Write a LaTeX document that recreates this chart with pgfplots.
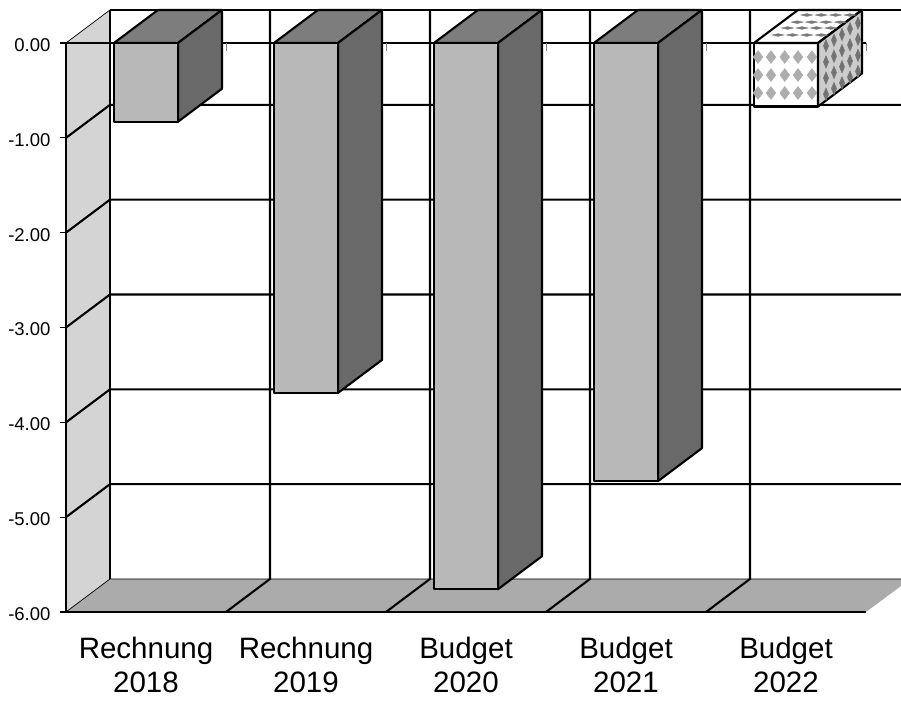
\documentclass[border=0pt]{standalone}
\usepackage{fontspec}
\setmainfont{Liberation Sans}
\usepackage{pgfplots}
\pgfplotsset{compat=1.18}
\definecolor{wall}{gray}{0.83}
\definecolor{floorc}{gray}{0.67}
\definecolor{front}{gray}{0.72}
\definecolor{side}{gray}{0.41}
\definecolor{topc}{gray}{0.49}
\pgfplotsset{
  thin line/.style={black,line width=0.7pt,no marks},
  thick line/.style={black,line width=2.1pt,no marks},
  face/.style={draw=black,line width=2.1pt,line join=round,no marks},
}
\begin{document}
\begin{tikzpicture}
\begin{axis}[
  scale only axis, width=835pt, height=602pt,
  xmin=-0.5, xmax=4.71875, ymin=-6, ymax=0.348,
  clip=false,
  axis line style={draw=none},
  ytick={-6,-5,-4,-3,-2,-1,0},
  yticklabels={-6.00,-5.00,-4.00,-3.00,-2.00,-1.00,0.00},
  xtick={0,1,2,3,4},
  xticklabels={{Rechnung\\2018},{Rechnung\\2019},{Budget\\2020},{Budget\\2021},{Budget\\2022}},
  xticklabel style={align=center,font=\fontsize{29.5}{34}\selectfont,yshift=-16pt},
  yticklabel style={font=\fontsize{18.5}{20}\selectfont,xshift=-6pt,yshift=-2pt},
  ytick pos=left, xtick pos=bottom,
  tick align=outside,
  major tick length=6pt,
  y tick style={black,line width=1.2pt},
  x tick style={draw=none},
  ylabel={}, xlabel={},
]
% left wall and floor
\addplot[fill=wall,draw=none,no marks] coordinates {(-0.5,0) (-0.225,0.348) (-0.225,-5.652) (-0.5,-6)} --cycle;
\addplot[fill=floorc,draw=none,no marks] coordinates {(-0.5,-6) (-0.225,-5.652) (4.71875,-5.652) (4.71875,-5.726) (4.5,-6)} --cycle;
\addplot[thin line] coordinates {(-0.5,0) (-0.225,0.348)};
\addplot[thin line] coordinates {(-0.5,-6) (-0.225,-5.652) (4.71875,-5.652)};
% grid on back wall and side wall
\addplot[thick line] coordinates {(-0.225,0.348) (4.71875,0.348)};
\addplot[thick line] coordinates {(-0.5,-1) (-0.225,-0.652) (4.71875,-0.652)};
\addplot[thick line] coordinates {(-0.5,-2) (-0.225,-1.652) (4.71875,-1.652)};
\addplot[thick line] coordinates {(-0.5,-3) (-0.225,-2.652) (4.71875,-2.652)};
\addplot[thick line] coordinates {(-0.5,-4) (-0.225,-3.652) (4.71875,-3.652)};
\addplot[thick line] coordinates {(-0.5,-5) (-0.225,-4.652) (4.71875,-4.652)};
% verticals running down the back wall, then across the floor
\addplot[thick line] coordinates {(-0.225,0.348) (-0.225,-5.652)};
\addplot[thick line] coordinates {(0.775,0.348) (0.775,-5.652) (0.5,-6)};
\addplot[thick line] coordinates {(1.775,0.348) (1.775,-5.652) (1.5,-6)};
\addplot[thick line] coordinates {(2.775,0.348) (2.775,-5.652) (2.5,-6)};
\addplot[thick line] coordinates {(3.775,0.348) (3.775,-5.652) (3.5,-6)};
% front edges and zero line
\addplot[thick line] coordinates {(-0.5,0) (-0.5,-6) (4.5,-6)};
\addplot[thick line] coordinates {(-0.5,0) (4.5,0)};
% small ticks below the zero line
\addplot[gray,line width=0.8pt,no marks] coordinates {(0.5,0) (0.5,-0.08)};
\addplot[gray,line width=0.8pt,no marks] coordinates {(1.5,0) (1.5,-0.08)};
\addplot[gray,line width=0.8pt,no marks] coordinates {(2.5,0) (2.5,-0.08)};
\addplot[gray,line width=0.8pt,no marks] coordinates {(3.5,0) (3.5,-0.08)};
\addplot[gray,line width=0.8pt,no marks] coordinates {(4.5,0) (4.5,-0.08)};
% bars: Rechnung 2018, value -0.83
\addplot[face,fill=topc] coordinates {(-0.2,0) (0.075,0.348) (0.475,0.348) (0.2,0)} --cycle;
\addplot[face,fill=side] coordinates {(0.2,0) (0.475,0.348) (0.475,-0.482) (0.2,-0.83)} --cycle;
\addplot[face,fill=front] coordinates {(-0.2,0) (0.2,0) (0.2,-0.83) (-0.2,-0.83)} --cycle;
% Rechnung 2019, value -3.69
\addplot[face,fill=topc] coordinates {(0.8,0) (1.075,0.348) (1.475,0.348) (1.2,0)} --cycle;
\addplot[face,fill=side] coordinates {(1.2,0) (1.475,0.348) (1.475,-3.342) (1.2,-3.69)} --cycle;
\addplot[face,fill=front] coordinates {(0.8,0) (1.2,0) (1.2,-3.69) (0.8,-3.69)} --cycle;
% Budget 2020, value -5.76
\addplot[face,fill=topc] coordinates {(1.8,0) (2.075,0.348) (2.475,0.348) (2.2,0)} --cycle;
\addplot[face,fill=side] coordinates {(2.2,0) (2.475,0.348) (2.475,-5.412) (2.2,-5.76)} --cycle;
\addplot[face,fill=front] coordinates {(1.8,0) (2.2,0) (2.2,-5.76) (1.8,-5.76)} --cycle;
% Budget 2021, value -4.62
\addplot[face,fill=topc] coordinates {(2.8,0) (3.075,0.348) (3.475,0.348) (3.2,0)} --cycle;
\addplot[face,fill=side] coordinates {(3.2,0) (3.475,0.348) (3.475,-4.272) (3.2,-4.62)} --cycle;
\addplot[face,fill=front] coordinates {(2.8,0) (3.2,0) (3.2,-4.62) (2.8,-4.62)} --cycle;
% Budget 2022, value -0.67, patterned
\addplot[fill=white,draw=none,no marks] coordinates {(3.8,0) (4.075,0.348) (4.475,0.348) (4.2,0)} --cycle;
\addplot[fill=white!80!black,draw=none,no marks] coordinates {(4.2,0) (4.475,0.348) (4.475,-0.322) (4.2,-0.67)} --cycle;
\addplot[fill=white,draw=none,no marks] coordinates {(3.8,0) (4.2,0) (4.2,-0.67) (3.8,-0.67)} --cycle;
\addplot[only marks,mark=diamond*,color=black!32,mark size=6.5pt] coordinates {
 (3.825,-0.148) (3.906,-0.148) (3.992,-0.148) (4.075,-0.148) (4.162,-0.148)
 (3.825,-0.338) (3.906,-0.338) (3.992,-0.338) (4.075,-0.338) (4.162,-0.338)
 (3.825,-0.527) (3.906,-0.527) (3.992,-0.527) (4.075,-0.527) (4.162,-0.527)};
\addplot[only marks,mark=diamond*,color=black!55,mark size=3.5pt,mark options={yscale=1.8}] coordinates {
 (4.25,-0.03) (4.25,-0.2) (4.25,-0.37) (4.25,-0.54)
 (4.30,0.03) (4.30,-0.14) (4.30,-0.31) (4.30,-0.48)
 (4.35,0.09) (4.35,-0.08) (4.35,-0.25) (4.35,-0.42)
 (4.40,0.15) (4.40,-0.02) (4.40,-0.19) (4.40,-0.36)
 (4.45,0.21) (4.45,0.04) (4.45,-0.13) (4.45,-0.30)};
\addplot[only marks,mark=diamond*,color=black!52,mark size=2.5pt,mark options={xscale=3.2,yscale=0.55}] coordinates {
 (3.95,0.084) (4.04,0.084) (4.13,0.084) (4.22,0.084)
 (4.01,0.158) (4.10,0.158) (4.19,0.158) (4.28,0.158)
 (4.07,0.22) (4.16,0.22) (4.25,0.22) (4.34,0.22)
 (4.13,0.295) (4.22,0.295) (4.31,0.295) (4.40,0.295)};
\addplot[face] coordinates {(3.8,0) (4.075,0.348) (4.475,0.348) (4.2,0)} --cycle;
\addplot[face] coordinates {(4.2,0) (4.475,0.348) (4.475,-0.322) (4.2,-0.67)} --cycle;
\addplot[face] coordinates {(3.8,0) (4.2,0) (4.2,-0.67) (3.8,-0.67)} --cycle;
\coordinate (bl) at (axis cs:-0.9125,-6.928);
\coordinate (tr) at (axis cs:4.71875,0.4534);
\end{axis}
\pgfresetboundingbox
\path[use as bounding box] (bl) rectangle (tr);
\end{tikzpicture}
\end{document}
